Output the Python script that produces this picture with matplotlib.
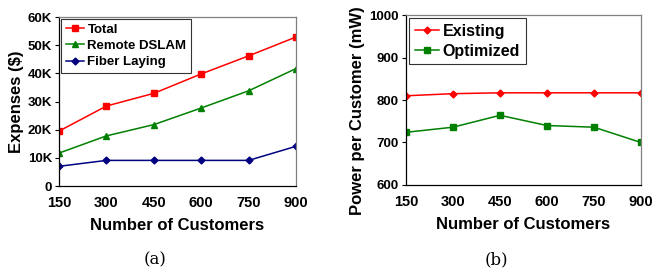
import matplotlib.pyplot as plt

# ---- data ----
customers = [150, 300, 450, 600, 750, 900]

total = [19.5, 28.4, 32.9, 39.8, 46.2, 52.9]          # K$
remote_dslam = [11.7, 17.8, 21.8, 27.7, 33.8, 41.7]   # K$
fiber_laying = [7.0, 9.1, 9.1, 9.1, 9.1, 14.1]        # K$

existing = [810, 815, 817, 817, 817, 817]             # mW
optimized = [724, 736, 764, 740, 736, 700]            # mW

exp_ticks = [0, 10, 20, 30, 40, 50, 60]
exp_labels = ["0", "10K", "20K", "30K", "40K", "50K", "60K"]
pow_ticks = [600, 700, 800, 900, 1000]

plt.rcParams["font.family"] = ["Liberation Sans", "DejaVu Sans"]
plt.rcParams["font.weight"] = "bold"

fig = plt.figure(figsize=(6.53, 2.70), dpi=100)
ax1 = fig.add_axes([0.0904, 0.311, 0.3629, 0.626])
ax2 = fig.add_axes([0.6217, 0.315, 0.3599, 0.629])


def style(ax):
    for s in ["top", "right"]:
        ax.spines[s].set_color("#808080")
    for s in ["left", "bottom"]:
        ax.spines[s].set_color("black")
    for s in ax.spines.values():
        s.set_linewidth(0.9)
    ax.tick_params(axis="y", direction="out", length=3, width=0.8, labelsize=9.5, pad=2)
    ax.tick_params(axis="x", length=0, labelsize=10.5, pad=7)
    ax.set_xticks(customers)
    ax.set_xlim(150, 900)
    ax.set_xlabel("Number of Customers", fontsize=12, fontweight="bold", labelpad=6)
    for lab in ax.get_xticklabels() + ax.get_yticklabels():
        lab.set_fontweight("bold")


# ---- (a) expenses ----
ax1.plot(customers, total, color="#ff0000", marker="s", markersize=4.5, lw=1.1, label="Total")
ax1.plot(customers, remote_dslam, color="#008000", marker="^", markersize=5, lw=1.1, label="Remote DSLAM")
ax1.plot(customers, fiber_laying, color="#000080", marker="D", markersize=3.5, lw=1.1, label="Fiber Laying")
ax1.set_ylim(0, 60)
ax1.set_yticks(exp_ticks)
ax1.set_yticklabels(exp_labels)
style(ax1)
ax1.set_ylabel("Expenses ($)", fontsize=12, fontweight="bold", labelpad=3)
leg1 = ax1.legend(loc="upper left", frameon=True, fancybox=False,
                  borderpad=0.35, labelspacing=0.3, handlelength=1.4, handletextpad=0.25,
                  borderaxespad=0.15, prop={"weight": "bold", "size": 9.5})
leg1.get_frame().set_edgecolor("black")
leg1.get_frame().set_linewidth(0.8)

# ---- (b) power per customer ----
ax2.plot(customers, existing, color="#ff0000", marker="D", markersize=3.5, lw=1.1, label="Existing")
ax2.plot(customers, optimized, color="#008000", marker="s", markersize=4.5, lw=1.1, label="Optimized")
ax2.set_ylim(600, 1000)
ax2.set_yticks(pow_ticks)
style(ax2)
ax2.set_ylabel("Power per Customer (mW)", fontsize=12, fontweight="bold", labelpad=3)
ax2.yaxis.set_label_coords(-0.175, 0.44)
leg2 = ax2.legend(loc="upper left", frameon=True, fancybox=False,
                  borderpad=0.35, labelspacing=0.3, handlelength=1.5, handletextpad=0.25,
                  borderaxespad=0.2, prop={"weight": "bold", "size": 11.5})
leg2.get_frame().set_edgecolor("black")
leg2.get_frame().set_linewidth(0.8)

# ---- captions ----
fig.text(0.237, 0.022, "(a)", family="DejaVu Serif", fontweight="normal", fontsize=12, ha="center")
fig.text(0.761, 0.022, "(b)", family="DejaVu Serif", fontweight="normal", fontsize=12, ha="center")

fig.savefig("out.png", dpi=100)
